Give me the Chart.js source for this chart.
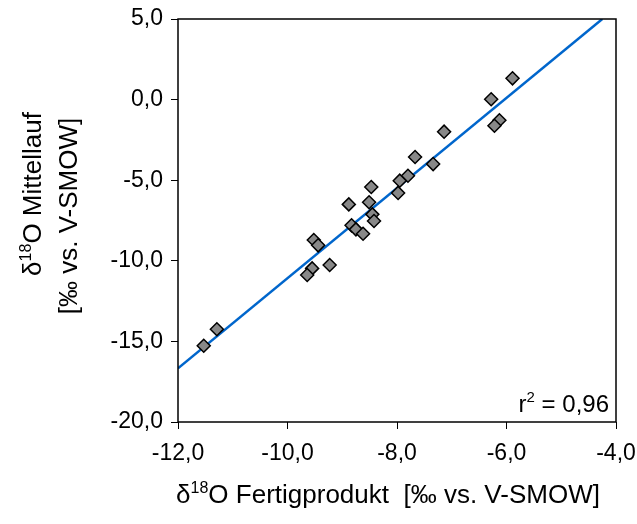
<!DOCTYPE html>
<html>
<head>
<meta charset="utf-8">
<script src="https://cdn.jsdelivr.net/npm/chart.js@4.4.0/dist/chart.umd.min.js"></script>
<style>
  html, body { margin: 0; padding: 0; background: #fff; }
  #wrap { width: 637px; height: 524px; }
</style>
</head>
<body>
<div id="wrap"><canvas id="chart" width="637" height="524"></canvas></div>
<script>
// measured points: d18O Fertigprodukt (x) vs Mittellauf (y)
var fertigprodukt = [-5.89, -6.28, -6.13, -6.22, -7.14, -7.67, -7.34, -7.80, -7.95, -8.47, -7.98, -8.51, -8.88,
                     -8.45, -8.42, -8.83, -8.75, -8.62, -9.52, -9.44, -9.23, -9.55, -9.64, -11.29, -11.53];
var mittellauf    = [1.32, 0.02, -1.28, -1.62, -1.99, -3.56, -4.00, -4.72, -5.03, -5.42, -5.79, -6.37, -6.50,
                     -7.12, -7.53, -7.80, -8.05, -8.32, -8.71, -9.04, -10.26, -10.47, -10.88, -14.25, -15.27];
// regression line end points
var fitX = [-12.0, -4.25];
var fitY = [-16.67, 5.0];
var xTicks = [-12, -10, -8, -6, -4];
var yTicks = [-20, -15, -10, -5, 0, 5];
var rSquared = '0,96';

var fmt = function(v) { return v.toFixed(1).replace('.', ','); };
var font = 'Liberation Sans, Arial, sans-serif';

// draw text made of normal and superscript parts, centred on (0, 0)
function richText(ctx, parts, size, align) {
  var widths = parts.map(function(p) {
    ctx.font = (p.sup ? Math.round(size * 0.62) : size) + 'px ' + font;
    return ctx.measureText(p.t).width;
  });
  var total = widths.reduce(function(a, b) { return a + b; }, 0);
  var x = align === 'right' ? -total : -total / 2;
  parts.forEach(function(p, i) {
    ctx.font = (p.sup ? Math.round(size * 0.62) : size) + 'px ' + font;
    ctx.fillText(p.t, x, p.sup ? -size * 0.4 : 0);
    x += widths[i];
  });
}

var labelPlugin = {
  id: 'labels',
  afterDraw: function(chart) {
    var a = chart.chartArea, ctx = chart.ctx;
    ctx.save();
    ctx.strokeStyle = '#000';
    ctx.lineWidth = 1.5;
    ctx.strokeRect(a.left, a.top, a.right - a.left, a.bottom - a.top);
    ctx.fillStyle = '#000';
    ctx.textAlign = 'left';
    ctx.textBaseline = 'alphabetic';

    // r^2 label
    ctx.save();
    ctx.translate(a.right - 7, a.bottom - 10);
    richText(ctx, [{t: 'r'}, {t: '2', sup: true}, {t: ' = ' + rSquared}], 24, 'right');
    ctx.restore();

    // x title
    ctx.save();
    ctx.translate(388, 503);
    richText(ctx, [{t: 'δ'}, {t: '18', sup: true}, {t: 'O Fertigprodukt  [‰ vs. V-SMOW]'}], 26);
    ctx.restore();

    // y title, two lines
    ctx.save();
    ctx.translate(41, 194);
    ctx.rotate(-Math.PI / 2);
    richText(ctx, [{t: 'δ'}, {t: '18', sup: true}, {t: 'O Mittellauf'}], 26);
    ctx.restore();
    ctx.save();
    ctx.translate(77, 216);
    ctx.rotate(-Math.PI / 2);
    richText(ctx, [{t: '[‰ vs. V-SMOW]'}], 26);
    ctx.restore();
    ctx.restore();
  }
};

new Chart(document.getElementById('chart'), {
  type: 'scatter',
  data: {
    datasets: [
      {
        type: 'line',
        data: fitX.map(function(x, i) { return {x: x, y: fitY[i]}; }),
        borderColor: '#0066cc',
        borderWidth: 2.5,
        pointRadius: 0,
        order: 2
      },
      {
        data: fertigprodukt.map(function(x, i) { return {x: x, y: mittellauf[i]}; }),
        pointStyle: 'rectRot',
        pointRadius: 6.5,
        backgroundColor: '#888888',
        borderColor: '#000',
        borderWidth: 1.5,
        order: 1
      }
    ]
  },
  options: {
    responsive: false,
    animation: false,
    layout: { padding: { left: 10, right: 21, top: 19, bottom: 14 } },
    plugins: { legend: { display: false }, tooltip: { enabled: false } },
    scales: {
      x: {
        type: 'linear', min: -12, max: -4,
        afterBuildTicks: function(s) { s.ticks = xTicks.map(function(v) { return {value: v}; }); },
        afterFit: function(s) { s.height = 88; s.paddingLeft = 0; s.paddingRight = 0; },
        grid: { drawOnChartArea: false, drawTicks: true, tickLength: 7, color: '#000' },
        border: { display: false },
        ticks: { color: '#000', font: { family: font, size: 23 }, padding: 11, callback: fmt, maxRotation: 0 }
      },
      y: {
        type: 'linear', min: -20, max: 5,
        afterBuildTicks: function(s) { s.ticks = yTicks.map(function(v) { return {value: v}; }); },
        afterFit: function(s) { s.width = 168; s.paddingTop = 0; s.paddingBottom = 0; },
        grid: { drawOnChartArea: false, drawTicks: true, tickLength: 7, color: '#000' },
        border: { display: false },
        ticks: { color: '#000', font: { family: font, size: 23 }, padding: 8, callback: fmt }
      }
    }
  },
  plugins: [labelPlugin]
});
</script>
</body>
</html>
